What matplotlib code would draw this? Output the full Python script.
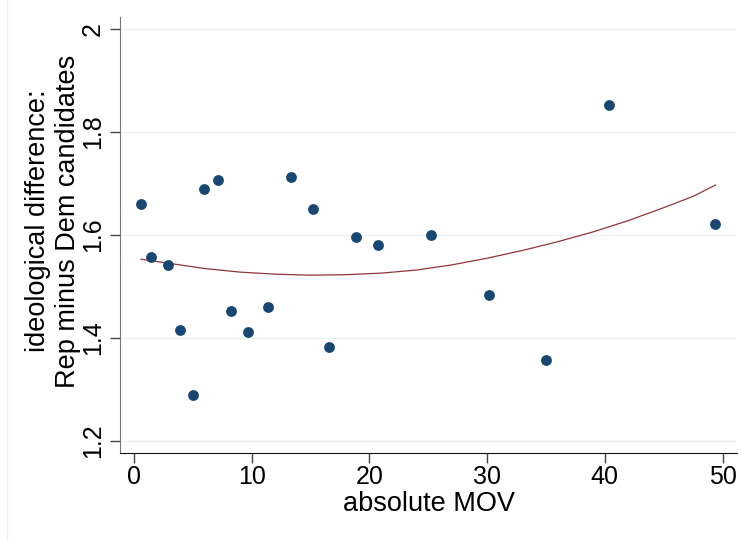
import matplotlib.pyplot as plt
from matplotlib.lines import Line2D

# absolute margin of victory vs. ideological difference
mov = [0.59, 1.44, 2.86, 3.93, 5.01, 5.97, 7.14, 8.22, 9.71, 11.41,
       13.36, 15.18, 16.57, 18.90, 20.76, 25.26, 30.16, 35.03, 40.38, 49.36]
diff = [1.660, 1.558, 1.542, 1.415, 1.289, 1.689, 1.706, 1.453, 1.412, 1.461,
        1.712, 1.650, 1.383, 1.597, 1.581, 1.600, 1.484, 1.357, 1.853, 1.621]

# quadratic fit line
fit_x = [0.6, 3, 6, 9, 12, 15, 18, 21, 24, 27, 30, 33, 36, 39, 42, 45, 47.5, 49.4]
fit_y = [1.553, 1.545, 1.535, 1.528, 1.524, 1.522, 1.523, 1.526, 1.532, 1.542,
         1.555, 1.570, 1.587, 1.606, 1.628, 1.653, 1.675, 1.697]

xticks = [0, 10, 20, 30, 40, 50]
yticks = [1.2, 1.4, 1.6, 1.8, 2]
ylabels = ['1.2', '1.4', '1.6', '1.8', '2']

plt.rcParams['font.family'] = ['Liberation Sans', 'DejaVu Sans']

fig = plt.figure(figsize=(7.43, 5.41), dpi=100)
ax = fig.add_axes([120/743, 1-453/541, (737-120)/743, (453-17)/541])

# faint graph region border on the left
fig.add_artist(Line2D([7/743, 7/743], [0, 1], transform=fig.transFigure,
                      color='#eeeeee', lw=1))

ax.plot(fit_x, fit_y, color='#90353b', lw=0.9, zorder=2)
ax.plot(mov, diff, 'o', color='#1a476f', markersize=7.8, markeredgewidth=0, zorder=3)

for t in yticks:
    ax.axhline(t, color='#eaf2f3', lw=1, zorder=1)

ax.set_xlim(-1.19, 51.23)
ax.set_ylim(1.177, 2.023)
ax.set_xticks(xticks)
ax.set_yticks(yticks)
ax.set_yticklabels(ylabels, rotation=90, va='center')
ax.tick_params(axis='both', labelsize=18, length=7, width=1, color='#444444')
ax.tick_params(axis='y', pad=4)
ax.tick_params(axis='x', pad=2)

for s in ['top', 'right']:
    ax.spines[s].set_visible(False)
ax.spines['left'].set_color('#777777')
ax.spines['bottom'].set_color('#111111')

ax.set_xlabel('absolute MOV', fontsize=19.5, labelpad=1)
ax.set_ylabel('ideological difference:\nRep minus Dem candidates', fontsize=19.5,
              linespacing=1.2)
ax.yaxis.set_label_coords(-0.063, 0.532)

fig.savefig('out.png', dpi=100, facecolor='white')
